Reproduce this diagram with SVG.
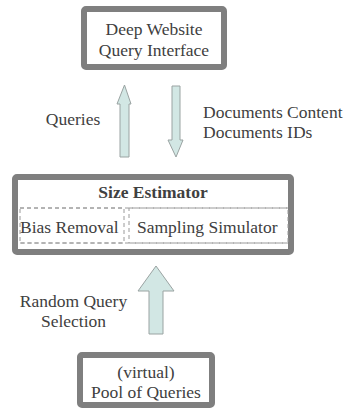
<svg xmlns="http://www.w3.org/2000/svg" width="352" height="412" viewBox="0 0 352 412">
<style>
.box{fill:#fff;stroke:#7f7f7f;stroke-width:6}
.dash{fill:none;stroke:#9a9a9a;stroke-width:1;stroke-dasharray:4 3}
.arr{fill:#d2e7e4;stroke:#9aa3a2;stroke-width:1}
text{font-family:"Liberation Serif","Times New Roman",serif;font-size:17.5px;fill:#404040}
.c{text-anchor:middle}
.b{font-weight:bold}
</style>
<rect width="352" height="412" fill="#fff"/>
<g id="deep-website">
<rect class="box" x="84" y="9" width="140" height="58" rx="2"/>
<text class="c" x="154" y="35">Deep Website</text>
<text class="c" x="154" y="56">Query Interface</text>
</g>
<g id="size-estimator">
<rect class="box" x="15" y="177" width="276" height="75" rx="2"/>
<text class="c b" x="153" y="198">Size Estimator</text>
<line class="dash" x1="20" y1="208" x2="288" y2="208"/>
<line class="dash" x1="20" y1="243" x2="288" y2="243"/>
<g id="bias-removal">
<rect class="dash" x="20" y="208" width="104" height="35"/>
<text x="20" y="233">Bias Removal</text>
</g>
<g id="sampling-simulator">
<rect class="dash" x="129" y="208" width="159" height="35"/>
<text x="137" y="233">Sampling Simulator</text>
</g>
</g>
<g id="pool">
<rect class="box" x="80" y="355" width="132" height="50" rx="2"/>
<text class="c" x="146" y="378">(virtual)</text>
<text class="c" x="146" y="398">Pool of Queries</text>
</g>
<g id="connectors">
<polygon class="arr" points="124.5,85 131,104 129,104 129,157 120,157 120,104 117,104"/>
<polygon class="arr" points="172,86 180,86 180,140 183,140 176,157 168,140 172,140"/>
<polygon class="arr" points="156,266 174,291 163,291 163,334 149,334 149,291 138,291"/>
<text class="c" x="73" y="125">Queries</text>
<text x="203" y="118">Documents Content</text>
<text x="203" y="138">Documents IDs</text>
<text class="c" x="73.5" y="307">Random Query</text>
<text class="c" x="73.5" y="327">Selection</text>
</g>
</svg>
